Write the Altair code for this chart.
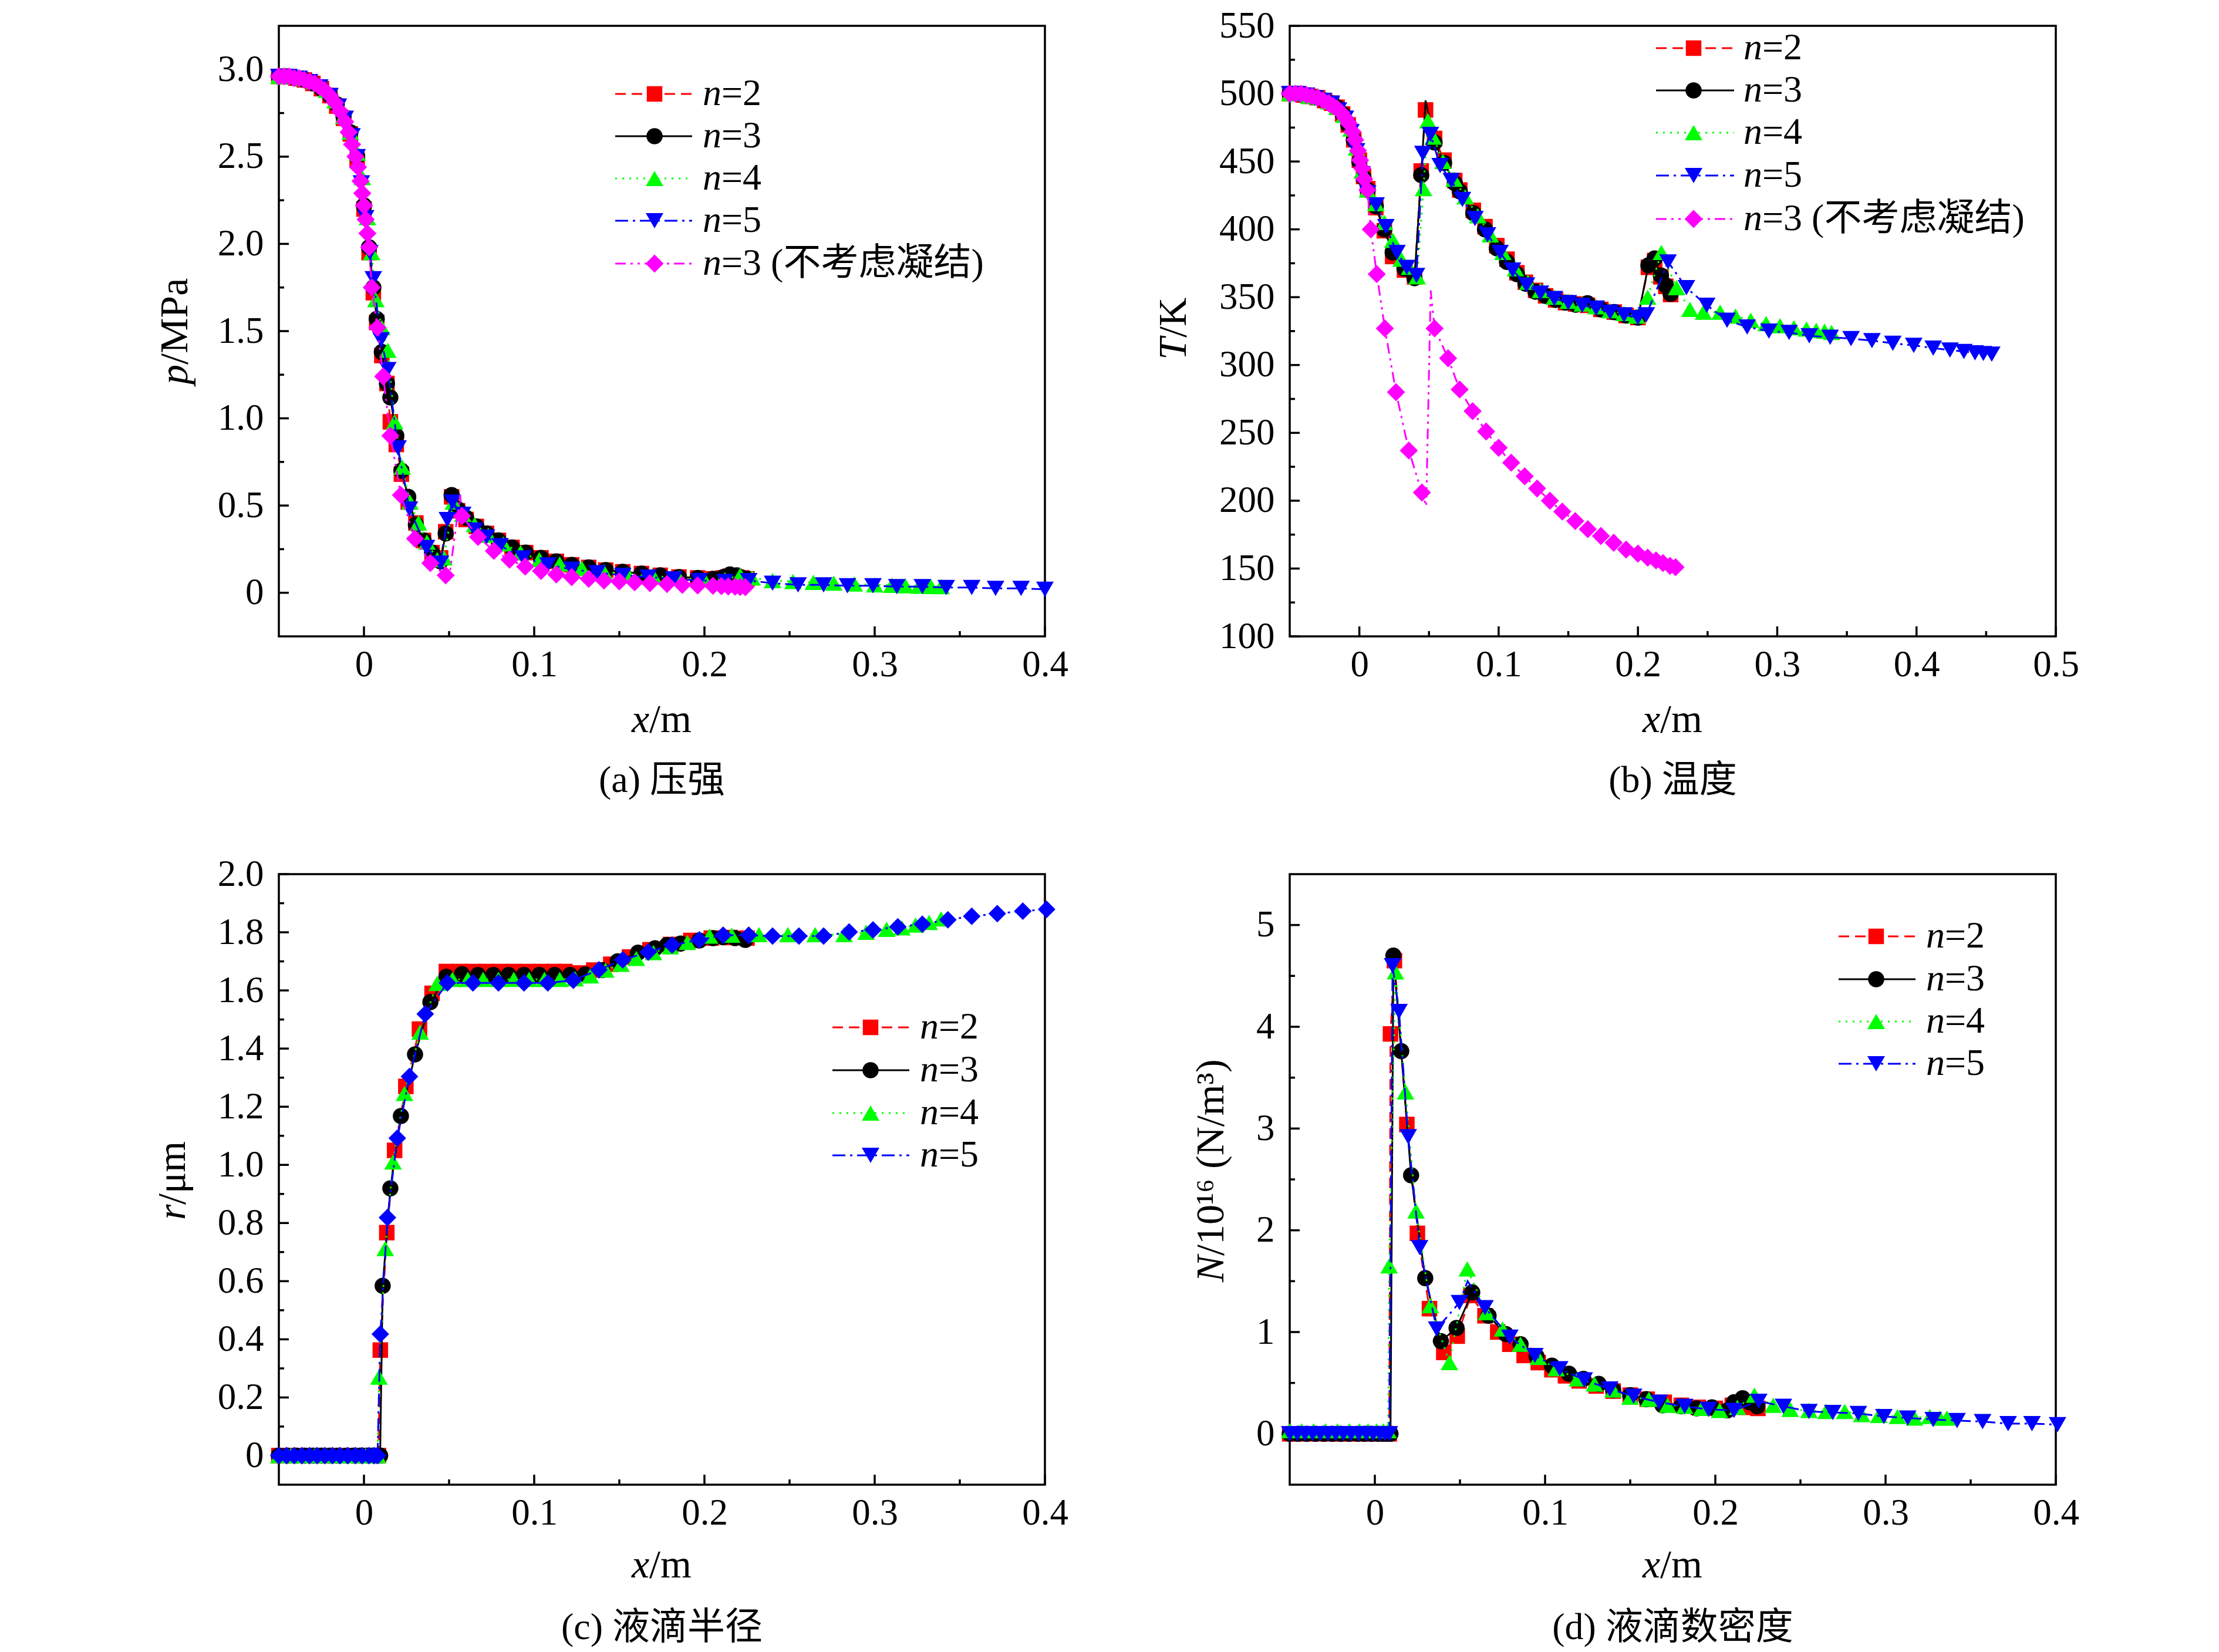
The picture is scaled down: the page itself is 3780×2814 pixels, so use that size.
import altair as alt
import pandas as pd

# ======================= DATA =======================
# ---- (a) pressure p / MPa ----
A_X_N23 = [-0.05, -0.045, -0.04, -0.035, -0.03, -0.025, -0.02, -0.016, -0.012, -0.008,
           -0.004, 0.0, 0.003, 0.0055, 0.0075, 0.0105, 0.0135, 0.0155, 0.019, 0.022,
           0.026, 0.0305, 0.035, 0.04, 0.045, 0.048, 0.0515, 0.055, 0.06, 0.066,
           0.072, 0.079, 0.087, 0.095, 0.104, 0.113, 0.122, 0.132, 0.142, 0.152,
           0.163, 0.174, 0.185, 0.196, 0.205, 0.211, 0.215, 0.219, 0.222, 0.225]
A_P_N2 = [2.96, 2.96, 2.95, 2.94, 2.92, 2.89, 2.85, 2.79, 2.72, 2.63,
          2.48, 2.20, 1.95, 1.72, 1.55, 1.36, 1.20, 0.98, 0.85, 0.68,
          0.52, 0.40, 0.30, 0.23, 0.20, 0.35, 0.55, 0.47, 0.42, 0.38,
          0.34, 0.30, 0.26, 0.23, 0.20, 0.18, 0.16, 0.145, 0.13, 0.12,
          0.11, 0.10, 0.09, 0.085, 0.08, 0.085, 0.095, 0.09, 0.085, 0.08]
A_P_N3 = [2.96, 2.96, 2.95, 2.94, 2.92, 2.89, 2.85, 2.80, 2.73, 2.64,
          2.50, 2.22, 1.98, 1.75, 1.57, 1.38, 1.20, 1.12, 0.90, 0.70,
          0.55, 0.39, 0.30, 0.23, 0.18, 0.34, 0.56, 0.48, 0.43, 0.38,
          0.34, 0.30, 0.26, 0.23, 0.20, 0.18, 0.16, 0.145, 0.13, 0.12,
          0.11, 0.10, 0.09, 0.085, 0.08, 0.09, 0.105, 0.10, 0.085, 0.08]
A_X_N4 = [-0.05, -0.043, -0.036, -0.029, -0.022, -0.017, -0.012, -0.008, -0.004, -0.001,
          0.002, 0.0045, 0.007, 0.0105, 0.014, 0.018, 0.0225, 0.027, 0.032, 0.037,
          0.043, 0.047, 0.0525, 0.058, 0.065, 0.073, 0.082, 0.092, 0.103, 0.115,
          0.128, 0.141, 0.155, 0.17, 0.185, 0.2, 0.212, 0.221, 0.228, 0.24,
          0.252, 0.264, 0.276, 0.288, 0.3, 0.31, 0.318, 0.326, 0.333, 0.339]
A_P_N4 = [2.96, 2.96, 2.95, 2.93, 2.88, 2.82, 2.73, 2.64, 2.52, 2.38,
          2.15, 1.95, 1.68, 1.52, 1.39, 0.98, 0.72, 0.52, 0.40, 0.29,
          0.19, 0.20, 0.52, 0.45, 0.39, 0.33, 0.28, 0.23, 0.19, 0.165,
          0.14, 0.12, 0.105, 0.095, 0.085, 0.075, 0.075, 0.10, 0.085, 0.07,
          0.065, 0.06, 0.055, 0.05, 0.045, 0.043, 0.04, 0.038, 0.036, 0.035]
A_X_N5 = [-0.05, -0.044, -0.038, -0.032, -0.026, -0.02, -0.015, -0.011, -0.007, -0.004,
          -0.0015, 0.001, 0.0035, 0.0055, 0.01, 0.014, 0.02, 0.0267, 0.0367, 0.045,
          0.049, 0.052, 0.058, 0.065, 0.072, 0.08, 0.0935, 0.108, 0.122, 0.137,
          0.152, 0.167, 0.182, 0.197, 0.212, 0.226, 0.24, 0.255, 0.27, 0.284,
          0.299, 0.313, 0.328, 0.342, 0.357, 0.371, 0.386, 0.4]
A_P_N5 = [2.96, 2.96, 2.95, 2.93, 2.90, 2.85, 2.79, 2.72, 2.62, 2.50,
          2.35, 2.15, 1.95, 1.80, 1.45, 1.28, 0.83, 0.48, 0.26, 0.17,
          0.42, 0.52, 0.45, 0.36, 0.32, 0.27, 0.20, 0.16, 0.135, 0.115,
          0.10, 0.09, 0.08, 0.07, 0.065, 0.07, 0.055, 0.045, 0.045, 0.04,
          0.04, 0.035, 0.035, 0.03, 0.03, 0.025, 0.025, 0.02]
A_X_P3 = [-0.05, -0.047, -0.044, -0.041, -0.038, -0.035, -0.032, -0.029, -0.026, -0.023,
          -0.02, -0.017, -0.014, -0.011, -0.009, -0.007, -0.005, -0.0035, -0.002, -0.001,
          0.0, 0.001, 0.002, 0.003, 0.0046, 0.0079, 0.0113, 0.0155, 0.0217, 0.03,
          0.039, 0.048, 0.0576, 0.067, 0.0763, 0.0855, 0.0947, 0.104, 0.113, 0.122,
          0.132, 0.141, 0.15, 0.159, 0.168, 0.178, 0.187, 0.196, 0.205, 0.21,
          0.214, 0.218, 0.221, 0.224]
A_P_P3 = [2.96, 2.96, 2.96, 2.95, 2.95, 2.94, 2.93, 2.92, 2.90, 2.88,
          2.85, 2.81, 2.76, 2.70, 2.64, 2.57, 2.50, 2.44, 2.36, 2.29,
          2.22, 2.14, 2.06, 1.98, 1.75, 1.52, 1.24, 0.90, 0.56, 0.31,
          0.17, 0.10, 0.44, 0.32, 0.24, 0.19, 0.15, 0.125, 0.105, 0.09,
          0.08, 0.07, 0.065, 0.06, 0.055, 0.05, 0.045, 0.042, 0.04, 0.038,
          0.036, 0.035, 0.033, 0.032]
# turning points of the pink line that carry no marker
A_X_P3_TURN = [0.05, 0.0565]
A_P_P3_TURN = [0.08, 0.56]

# ---- (b) temperature T / K ----
B_X_N2 = [-0.05, -0.045, -0.04, -0.035, -0.03, -0.025, -0.02, -0.016, -0.012, -0.008,
          -0.004, 0.0, 0.003, 0.006, 0.0118, 0.0179, 0.0239, 0.0324, 0.0396, 0.0444,
          0.0475, 0.054, 0.0608, 0.0685, 0.0721, 0.0818, 0.0902, 0.0987, 0.106, 0.1131,
          0.1192, 0.1265, 0.1337, 0.1409, 0.1481, 0.1553, 0.1638, 0.1734, 0.183, 0.1915,
          0.2, 0.2075, 0.212, 0.2165, 0.22, 0.2235]
B_T_N2 = [500, 500, 499, 498, 497, 495, 493, 490, 485, 477,
          466, 451, 439, 430, 416, 399, 380, 370, 365, 443,
          488, 467, 451, 436, 429, 414, 402, 388, 378, 368,
          361, 355, 351, 348, 346, 345, 344, 341, 339, 336.5,
          335, 372, 377, 365, 358, 352]
B_X_N3 = [-0.05, -0.045, -0.04, -0.035, -0.03, -0.025, -0.02, -0.016, -0.012, -0.008,
          -0.004, 0.0, 0.003, 0.006, 0.0118, 0.0179, 0.0239, 0.0324, 0.0396, 0.0444,
          0.054, 0.0608, 0.0685, 0.0721, 0.0818, 0.0902, 0.0987, 0.106, 0.1131,
          0.1192, 0.1265, 0.1337, 0.1409, 0.1481, 0.1553, 0.1638, 0.1734, 0.183, 0.1915,
          0.2, 0.2075, 0.212, 0.2165, 0.22, 0.2235]
B_T_N3 = [500, 500, 499, 498, 497, 495, 493, 490, 485, 477,
          466, 450, 438, 429, 417, 400, 383, 371, 364, 440,
          464, 449, 434, 428, 412, 400, 386, 376, 367,
          360, 354, 351, 348, 346, 344.5, 345.5, 341, 339, 336.5,
          335, 373.5, 378.5, 366, 358.7, 352.5]
B_X_N3_TURN = [0.0475]
B_T_N3_TURN = [495]
B_X_N4 = [-0.05, -0.043, -0.036, -0.029, -0.022, -0.016, -0.011, -0.006, -0.002, 0.002,
          0.0058, 0.0118, 0.018, 0.024, 0.03, 0.036, 0.0415, 0.046, 0.0492, 0.053,
          0.06, 0.068, 0.076, 0.085, 0.094, 0.103, 0.112, 0.121, 0.13, 0.14,
          0.15, 0.16, 0.17, 0.18, 0.19, 0.199, 0.207, 0.2168, 0.2277, 0.2373,
          0.247, 0.259, 0.27, 0.281, 0.292, 0.302, 0.312, 0.321, 0.328, 0.334,
          0.339]
B_T_N4 = [500, 500, 498, 497, 494, 490, 484, 474, 460, 443,
          429, 419, 405, 392, 378, 372, 365, 430, 480, 468,
          450, 437, 424, 410, 396, 383, 371, 361, 355, 350,
          347, 345, 343, 340, 338, 336, 350, 383, 357, 341,
          339, 339, 336, 333, 330.5, 329, 327.5, 326.5, 325.5, 325,
          324]
B_X_N5 = [-0.05, -0.044, -0.038, -0.032, -0.026, -0.02, -0.015, -0.01, -0.006, -0.002,
          0.002, 0.006, 0.012, 0.019, 0.027, 0.034, 0.041, 0.0456, 0.051, 0.058,
          0.066, 0.074, 0.083, 0.092, 0.101, 0.11, 0.12, 0.13, 0.14, 0.15,
          0.16, 0.17, 0.18, 0.19, 0.2, 0.206, 0.2216, 0.2348, 0.2494, 0.264,
          0.2784, 0.294, 0.3085, 0.323, 0.338, 0.353, 0.368, 0.383, 0.398, 0.412,
          0.424, 0.434, 0.442, 0.448, 0.454]
B_T_N5 = [500, 500, 499, 497, 495, 493, 488, 482, 472, 458,
          441, 427, 418, 402, 383, 372, 366, 456, 470, 447,
          436, 422, 408, 396, 383, 370, 359, 353, 349, 346,
          344, 342, 339, 337, 335, 337, 376, 357, 344, 333,
          328, 325, 324, 321.5, 320.5, 319.5, 318, 316, 314.5, 312.5,
          311, 310, 309, 308.5, 308]
B_X_P3 = [-0.05, -0.046, -0.042, -0.038, -0.034, -0.03, -0.026, -0.022, -0.019, -0.016,
          -0.013, -0.01, -0.0075, -0.005, -0.003, -0.001, 0.0005, 0.002, 0.0035, 0.0058,
          0.0082, 0.0125, 0.0183, 0.0263, 0.0355, 0.0449, 0.054, 0.0637, 0.072, 0.0813,
          0.091, 0.1, 0.109, 0.1187, 0.1276, 0.1368, 0.1457, 0.155, 0.164, 0.1734,
          0.1826, 0.1915, 0.2, 0.207, 0.213, 0.218, 0.223, 0.227]
B_T_P3 = [500, 500, 500, 499, 498, 497, 495, 493, 491, 489,
          486, 482, 478, 472, 466, 458, 451, 445, 437, 429,
          400, 367, 327, 280, 237, 206, 327, 305, 282, 266,
          251, 239, 228, 218, 209, 200, 192, 185, 179, 174,
          169, 164, 161, 158, 156, 154, 152, 151]
B_X_P3_TURN = [0.048, 0.0512]
B_T_P3_TURN = [196, 355]

# ---- (c) droplet radius r / um ----
C_X_N2 = [-0.05, -0.044, -0.038, -0.032, -0.026, -0.02, -0.014, -0.008, -0.003, 0.002,
          0.006, 0.0085, 0.0096, 0.0134, 0.018, 0.0246, 0.0326, 0.04, 0.0484, 0.056,
          0.064, 0.072, 0.08, 0.088, 0.096, 0.104, 0.112, 0.118, 0.126, 0.135,
          0.145, 0.156, 0.168, 0.18, 0.192, 0.204, 0.215, 0.225]
C_R_N2 = [0, 0, 0, 0, 0, 0, 0, 0, 0, 0,
          0, 0, 0.363, 0.767, 1.05, 1.27, 1.467, 1.59, 1.665, 1.665,
          1.665, 1.665, 1.665, 1.665, 1.665, 1.665, 1.665, 1.665, 1.66, 1.67,
          1.69, 1.715, 1.74, 1.758, 1.772, 1.78, 1.782, 1.78]
C_X_N3 = [-0.05, -0.045, -0.04, -0.035, -0.03, -0.025, -0.02, -0.015, -0.01, -0.006,
          -0.002, 0.002, 0.005, 0.0075, 0.0095, 0.011, 0.0155, 0.0217, 0.03, 0.039,
          0.0484, 0.0576, 0.067, 0.076, 0.085, 0.094, 0.103, 0.112, 0.121, 0.13,
          0.14, 0.149, 0.161, 0.171, 0.178, 0.186, 0.197, 0.205, 0.211, 0.218,
          0.224]
C_R_N3 = [0, 0, 0, 0, 0, 0, 0, 0, 0, 0,
          0, 0, 0, 0, 0, 0.584, 0.919, 1.168, 1.38, 1.56,
          1.647, 1.656, 1.653, 1.653, 1.653, 1.653, 1.653, 1.653, 1.653, 1.655,
          1.67, 1.70, 1.73, 1.745, 1.756, 1.761, 1.772, 1.78, 1.783, 1.78,
          1.774]
C_X_N4 = [-0.05, -0.043, -0.036, -0.029, -0.022, -0.015, -0.009, -0.004, 0.001, 0.005,
          0.008, 0.0088, 0.0125, 0.0171, 0.0238, 0.033, 0.043, 0.052, 0.061, 0.07,
          0.079, 0.088, 0.097, 0.106, 0.115, 0.124, 0.133, 0.142, 0.151, 0.16,
          0.17, 0.18, 0.19, 0.203, 0.216, 0.232, 0.249, 0.265, 0.282, 0.295,
          0.307, 0.316, 0.324, 0.332, 0.339]
C_R_N4 = [0, 0, 0, 0, 0, 0, 0, 0, 0, 0,
          0, 0.27, 0.712, 1.01, 1.246, 1.457, 1.624, 1.638, 1.638, 1.638,
          1.638, 1.638, 1.638, 1.638, 1.638, 1.64, 1.65, 1.67, 1.69, 1.71,
          1.73, 1.75, 1.765, 1.787, 1.79, 1.792, 1.792, 1.792, 1.792, 1.80,
          1.81, 1.815, 1.825, 1.834, 1.846]
C_X_N5 = [-0.05, -0.0455, -0.041, -0.0365, -0.032, -0.0275, -0.023, -0.0185, -0.014, -0.0095,
          -0.005, -0.001, 0.003, 0.006, 0.008, 0.0096, 0.0138, 0.0196, 0.0267, 0.036,
          0.049, 0.064, 0.079, 0.094, 0.108, 0.123, 0.138, 0.152, 0.167, 0.181,
          0.197, 0.211, 0.226, 0.24, 0.2555, 0.27, 0.285, 0.299, 0.3136, 0.328,
          0.343, 0.357, 0.372, 0.387, 0.401]
C_R_N5 = [0, 0, 0, 0, 0, 0, 0, 0, 0, 0,
          0, 0, 0, 0, 0, 0.418, 0.819, 1.092, 1.304, 1.519,
          1.626, 1.626, 1.626, 1.626, 1.626, 1.635, 1.671, 1.705, 1.732, 1.756,
          1.774, 1.79, 1.79, 1.787, 1.787, 1.787, 1.801, 1.808, 1.819, 1.828,
          1.843, 1.855, 1.864, 1.873, 1.879]

# ---- (d) droplet number density N / 1e16 ----
D_X_N2 = [-0.05, -0.044, -0.038, -0.032, -0.026, -0.02, -0.014, -0.008, -0.003, 0.002,
          0.006, 0.0085, 0.0092, 0.0115, 0.0188, 0.025, 0.0321, 0.0405, 0.0484, 0.0564,
          0.0647, 0.0722, 0.0793, 0.0877, 0.096, 0.104, 0.112, 0.12, 0.13, 0.14,
          0.15, 0.16, 0.17, 0.18, 0.19, 0.2, 0.21, 0.218, 0.225]
D_N_N2 = [0, 0, 0, 0, 0, 0, 0, 0, 0, 0,
          0, 0, 3.93, 4.65, 3.04, 1.97, 1.23, 0.80, 0.96, 1.36,
          1.16, 1.0, 0.88, 0.77, 0.70, 0.63, 0.57, 0.52, 0.47, 0.42,
          0.38, 0.34, 0.31, 0.28, 0.26, 0.25, 0.28, 0.26, 0.25]
D_X_N3 = [-0.05, -0.045, -0.04, -0.035, -0.03, -0.025, -0.02, -0.015, -0.01, -0.006,
          -0.002, 0.002, 0.005, 0.0075, 0.0092, 0.0109, 0.0155, 0.0213, 0.0296, 0.0388,
          0.048, 0.0572, 0.0668, 0.077, 0.0856, 0.095, 0.104, 0.114, 0.1225, 0.1315,
          0.14, 0.15, 0.1595, 0.169, 0.18, 0.189, 0.198, 0.207, 0.211, 0.216,
          0.22, 0.2246]
D_N_N3 = [0, 0, 0, 0, 0, 0, 0, 0, 0, 0,
          0, 0, 0, 0, 0, 4.70, 3.76, 2.54, 1.53, 0.91,
          1.04, 1.39, 1.16, 0.98, 0.88, 0.76, 0.67, 0.59, 0.54, 0.49,
          0.43, 0.38, 0.34, 0.28, 0.27, 0.25, 0.26, 0.23, 0.31, 0.35,
          0.31, 0.27]
D_X_N4 = [-0.05, -0.043, -0.036, -0.029, -0.022, -0.015, -0.009, -0.004, 0.001, 0.005,
          0.0078, 0.0084, 0.0121, 0.018, 0.0242, 0.0326, 0.0438, 0.0543, 0.0656, 0.075,
          0.0856, 0.096, 0.1065, 0.119, 0.129, 0.14, 0.15, 0.161, 0.172, 0.182,
          0.192, 0.2025, 0.213, 0.223, 0.234, 0.244, 0.255, 0.265, 0.276, 0.286,
          0.296, 0.307, 0.317, 0.326, 0.332, 0.336]
D_N_N4 = [0.03, 0.03, 0.03, 0.03, 0.03, 0.03, 0.03, 0.03, 0.03, 0.03,
          0.03, 1.65, 4.54, 3.36, 2.19, 1.26, 0.70, 1.62, 1.19, 1.03,
          0.88, 0.75, 0.64, 0.54, 0.49, 0.43, 0.36, 0.34, 0.28, 0.27,
          0.25, 0.23, 0.26, 0.38, 0.28, 0.24, 0.23, 0.22, 0.22, 0.19,
          0.18, 0.17, 0.155, 0.17, 0.155, 0.155]
D_X_N5 = [-0.05, -0.0455, -0.041, -0.0365, -0.032, -0.0275, -0.023, -0.0185, -0.014, -0.0095,
          -0.005, -0.001, 0.003, 0.006, 0.0085, 0.0104, 0.0142, 0.0196, 0.0263, 0.0363,
          0.0497, 0.0647, 0.0793, 0.094, 0.1086, 0.123, 0.138, 0.152, 0.167, 0.182,
          0.196, 0.211, 0.2255, 0.24, 0.255, 0.269, 0.284, 0.299, 0.313, 0.328,
          0.342, 0.357, 0.372, 0.386, 0.401]
D_N_N5 = [0, 0, 0, 0, 0, 0, 0, 0, 0, 0,
          0, 0, 0, 0, 0, 4.6, 4.15, 2.92, 1.83, 1.03,
          1.29, 1.24, 0.95, 0.77, 0.64, 0.53, 0.44, 0.37, 0.31, 0.27,
          0.24, 0.23, 0.32, 0.27, 0.22, 0.21, 0.2, 0.17, 0.155, 0.14,
          0.13, 0.12, 0.1, 0.1, 0.09]
D_X_N5_TURN = [0.0545]
D_N_N5_TURN = [1.5]

# tick values
X_MAJ_04 = [0, 0.1, 0.2, 0.3, 0.4]
X_MIN_04 = [0.05, 0.15, 0.25, 0.35]
X_MAJ_05 = [0, 0.1, 0.2, 0.3, 0.4, 0.5]
X_MIN_05 = [0.05, 0.15, 0.25, 0.35, 0.45]
A_Y_MAJ = [0, 0.5, 1.0, 1.5, 2.0, 2.5, 3.0]
A_Y_MIN = [0.25, 0.75, 1.25, 1.75, 2.25, 2.75]
B_Y_MAJ = [100, 150, 200, 250, 300, 350, 400, 450, 500, 550]
B_Y_MIN = [125, 175, 225, 275, 325, 375, 425, 475, 525]
C_Y_MAJ = [0, 0.2, 0.4, 0.6, 0.8, 1.0, 1.2, 1.4, 1.6, 1.8, 2.0]
C_Y_MIN = [0.1, 0.3, 0.5, 0.7, 0.9, 1.1, 1.3, 1.5, 1.7, 1.9]
D_Y_MAJ = [0, 1, 2, 3, 4, 5]
D_Y_MIN = [0.5, 1.5, 2.5, 3.5, 4.5]

LEG_MAIN = ["=2", "=3", "=4", "=5", "=3 (不考虑凝结)"]

# ======================= STYLE =======================
W, H = 1305, 1040
SERIF = "Liberation Serif, Noto Sans CJK SC"
ONE = pd.DataFrame({"k": [0]})
STYLE = {
    "n2": dict(color="#ff0000", dash=[18, 10], shape="square", size=700),
    "n3": dict(color="#000000", dash=None, shape="circle", size=760),
    "n4": dict(color="#00ff00", dash=[3, 9], shape="triangle-up", size=900),
    "n5": dict(color="#0000ff", dash=[22, 8, 4, 8], shape="triangle-down", size=900),
    "p3": dict(color="#ff00ff", dash=[18, 8, 4, 8, 4, 8], shape="diamond", size=950),
}
FMT1 = "datum.value == 0 ? '0' : format(datum.value, '.1f')"
FMTD = "format(datum.value, 'd')"


class Panel:
    def __init__(self, xdom, ydom, xmaj, ymaj, xfmt, yfmt):
        common = dict(title=None, grid=False, ticks=False, domain=False, labelFont=SERIF,
                      labelFontSize=63, labelColor="black", labelFlush=False,
                      labelOverlap=False)
        self.xsc = alt.Scale(domain=xdom, nice=False, zero=False)
        self.ysc = alt.Scale(domain=ydom, nice=False, zero=False)
        self.ax = alt.Axis(values=xmaj, labelExpr=xfmt, labelPadding=17, **common)
        self.ay = alt.Axis(values=ymaj, labelExpr=yfmt, labelPadding=26, **common)
        self.layers = []

    def X(self):
        return alt.X("x:Q", scale=self.xsc, axis=self.ax)

    def Y(self):
        return alt.Y("y:Q", scale=self.ysc, axis=self.ay)

    def ticks(self, xmaj, xmin, ymaj, ymin):
        rk = dict(color="black", strokeWidth=3.5)
        for vals, ln in ((xmaj, 17), (xmin, 9)):
            self.layers.append(alt.Chart(pd.DataFrame({"x": vals})).mark_rule(**rk).encode(
                x=self.X(), y=alt.value(H), y2=alt.value(H - ln)))
        for vals, ln in ((ymaj, 17), (ymin, 9)):
            self.layers.append(alt.Chart(pd.DataFrame({"y": vals})).mark_rule(**rk).encode(
                y=self.Y(), x=alt.value(0), x2=alt.value(ln)))

    def series(self, xs, ys, key, shape=None, size=None, turn_x=(), turn_y=()):
        st = STYLE[key]
        df = pd.DataFrame({"x": xs, "y": ys})
        dfl = pd.concat([df, pd.DataFrame({"x": list(turn_x), "y": list(turn_y)})],
                        ignore_index=True).sort_values("x")
        lk = dict(color=st["color"], strokeWidth=3)
        if st["dash"]:
            lk["strokeDash"] = st["dash"]
        self.layers.append(alt.Chart(dfl).mark_line(**lk).encode(x=self.X(), y=self.Y()))
        self.layers.append(alt.Chart(df).mark_point(
            filled=True, opacity=1, strokeWidth=0, shape=shape or st["shape"],
            size=size or st["size"], color=st["color"]).encode(x=self.X(), y=self.Y()))

    def txt(self, s, x, y, size, italic=False, angle=None, align="left"):
        kw = dict(text=s, font=SERIF, fontSize=size, color="black", align=align,
                  baseline="middle")
        if italic:
            kw["fontStyle"] = "italic"
        if angle is not None:
            kw["angle"] = angle
        self.layers.append(alt.Chart(ONE).mark_text(**kw).encode(
            x=alt.value(x), y=alt.value(y)))

    def legend(self, keys, labels, lx1, lx2, lm, lt, rows):
        for k, lab, y in zip(keys, labels, rows):
            st = STYLE[k]
            rk = dict(color=st["color"], strokeWidth=3)
            if st["dash"]:
                rk["strokeDash"] = st["dash"]
            self.layers.append(alt.Chart(ONE).mark_rule(**rk).encode(
                x=alt.value(lx1), x2=alt.value(lx2), y=alt.value(y)))
            self.layers.append(alt.Chart(ONE).mark_point(
                filled=True, opacity=1, strokeWidth=0, shape=st["shape"], size=st["size"],
                color=st["color"]).encode(x=alt.value(lm), y=alt.value(y)))
            self.txt("n", lt, y, 64, italic=True)
            self.txt(lab, lt + 32, y, 64)

    def xtitle(self, caption, ty=1183, cy=1286):
        self.txt("x", 601, ty, 68, italic=True)
        self.txt("/m", 631, ty, 68)
        self.txt(caption, W / 2, cy, 64, align="center")

    def chart(self):
        return alt.layer(*self.layers).properties(width=W, height=H)


# ---------- panel (a) ----------
a = Panel([-0.05, 0.4], [-0.25, 3.25], X_MAJ_04, A_Y_MAJ, FMT1, FMT1)
a.ticks(X_MAJ_04, X_MIN_04, A_Y_MAJ, A_Y_MIN)
a.series(A_X_N23, A_P_N2, "n2")
a.series(A_X_N23, A_P_N3, "n3")
a.series(A_X_N4, A_P_N4, "n4")
a.series(A_X_N5, A_P_N5, "n5")
a.series(A_X_P3, A_P_P3, "p3", turn_x=A_X_P3_TURN, turn_y=A_P_P3_TURN)
a.legend(["n2", "n3", "n4", "n5", "p3"], LEG_MAIN, 573, 704, 640, 722, [116, 188, 260, 332, 405])
a.txt("p", -176, 611, 68, italic=True, angle=270)
a.txt("/MPa", -176, 577, 68, angle=270)
a.xtitle("(a) 压强")

# ---------- panel (b) ----------
b = Panel([-0.05, 0.5], [100, 550], X_MAJ_05, B_Y_MAJ, FMT1, FMTD)
b.ticks(X_MAJ_05, X_MIN_05, B_Y_MAJ, B_Y_MIN)
b.series(B_X_N2, B_T_N2, "n2")
b.series(B_X_N3, B_T_N3, "n3", turn_x=B_X_N3_TURN, turn_y=B_T_N3_TURN)
b.series(B_X_N4, B_T_N4, "n4")
b.series(B_X_N5, B_T_N5, "n5")
b.series(B_X_P3, B_T_P3, "p3", turn_x=B_X_P3_TURN, turn_y=B_T_P3_TURN)
b.legend(["n2", "n3", "n4", "n5", "p3"], LEG_MAIN, 624, 757, 688, 773, [38, 110, 182, 255, 329])
b.txt("T", -197, 569, 68, italic=True, angle=270)
b.txt("/K", -197, 531, 68, angle=270)
b.xtitle("(b) 温度")

# ---------- panel (c) ----------
c = Panel([-0.05, 0.4], [-0.1, 2.0], X_MAJ_04, C_Y_MAJ, FMT1, FMT1)
c.ticks(X_MAJ_04, X_MIN_04, C_Y_MAJ, C_Y_MIN)
c.series(C_X_N2, C_R_N2, "n2")
c.series(C_X_N3, C_R_N3, "n3")
c.series(C_X_N4, C_R_N4, "n4")
c.series(C_X_N5, C_R_N5, "n5", shape="diamond", size=900)
c.legend(["n2", "n3", "n4", "n5"], LEG_MAIN[:4], 943, 1074, 1008, 1092, [261, 334, 407, 479])
c.txt("r", -180, 589, 68, italic=True, angle=270)
c.txt("/μm", -180, 563, 68, angle=270)
c.xtitle("(c) 液滴半径", ty=1178, cy=1284)

# ---------- panel (d) ----------
d = Panel([-0.05, 0.4], [-0.5, 5.5], X_MAJ_04, D_Y_MAJ, FMT1, FMTD)
d.ticks(X_MAJ_04, X_MIN_04, D_Y_MAJ, D_Y_MIN)
d.series(D_X_N2, D_N_N2, "n2")
d.series(D_X_N3, D_N_N3, "n3")
d.series(D_X_N4, D_N_N4, "n4")
d.series(D_X_N5, D_N_N5, "n5", turn_x=D_X_N5_TURN, turn_y=D_N_N5_TURN)
d.legend(["n2", "n3", "n4", "n5"], LEG_MAIN[:4], 935, 1066, 999, 1084, [106, 179, 251, 323])
d.txt("N", -133, 695, 68, italic=True, angle=270)
d.txt("/10¹⁶ (N/m³)", -133, 650, 68, angle=270)
d.xtitle("(d) 液滴数密度", ty=1178, cy=1284)

chart = alt.concat(a.chart(), b.chart(), c.chart(), d.chart(), columns=2,
                   spacing={"row": 405, "column": 417}, bounds="flush").properties(
    padding={"left": 251, "top": 3, "right": 5, "bottom": 5}
).configure(background="white").configure_view(stroke="black", strokeWidth=3.5)

chart.save("out.html", embed_options={"renderer": "svg", "actions": False})
